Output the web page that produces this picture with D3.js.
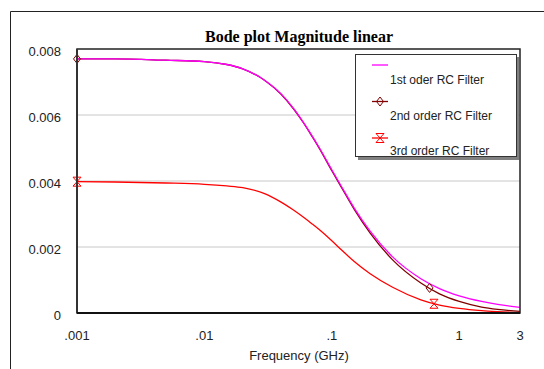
<!DOCTYPE html>
<html><head><meta charset="utf-8">
<script src="https://cdn.jsdelivr.net/npm/d3@7"></script>
<style>
html,body{margin:0;padding:0;background:#fff;}
svg{display:block;}
</style></head>
<body>
<svg id="chart" width="544" height="369"></svg>
<script>
// ---- data ----
const title = "Bode plot Magnitude linear";
const xAxisTitle = "Frequency (GHz)";
const freqs = [0.001, 0.002, 0.005, 0.01, 0.015, 0.02, 0.03, 0.04, 0.05, 0.06, 0.07, 0.08, 0.1, 0.12, 0.15, 0.2, 0.3, 0.5, 0.7, 1, 1.5, 2, 3];
const firstOrder  = [0.00770, 0.00770, 0.00766, 0.00762, 0.00753, 0.00740, 0.00704, 0.00664, 0.00620, 0.00577, 0.00537, 0.00500, 0.00434, 0.00381, 0.00318, 0.00248, 0.00170, 0.00104, 0.00074, 0.00052, 0.00035, 0.00026, 0.00017];
const secondOrder = [0.00770, 0.00770, 0.00766, 0.00762, 0.00753, 0.00740, 0.00704, 0.00663, 0.00619, 0.00576, 0.00535, 0.00498, 0.00431, 0.00378, 0.00314, 0.00242, 0.00161, 0.00091, 0.00058, 0.00035, 0.00018, 0.00011, 0.00005];
const thirdOrder  = [0.00398, 0.00397, 0.00394, 0.00390, 0.00385, 0.00380, 0.00361, 0.00336, 0.00312, 0.00290, 0.00270, 0.00252, 0.00219, 0.00190, 0.00156, 0.00119, 0.00078, 0.00040, 0.00024, 0.00014, 0.00007, 0.00004, 0.00001];
const marker2Freq = [0.001, 0.585];
const marker2Val  = [0.00770, 0.00076];
const marker3Freq = [0.001, 0.634];
const marker3Val  = [0.00398, 0.00028];
const seriesNames = ["1st oder RC Filter", "2nd order RC Filter", "3rd order RC Filter"];
const xTickValues = [0.001, 0.01, 0.1, 1, 3];
const xTickLabels = [".001", ".01", ".1", "1", "3"];
const yTickValues = [0, 0.002, 0.004, 0.006, 0.008];
const yTickLabels = ["0", "0.002", "0.004", "0.006", "0.008"];

// ---- layout ----
const colors = ["#ff00ff", "#800000", "#ff0000"];
const L = 77, R = 520, T = 49, B = 313;
const svg = d3.select("#chart");
const x = d3.scaleLog().domain([0.001, 3]).range([L, R]);
const y = d3.scaleLinear().domain([0, 0.008]).range([B, T]);

// outer frame
svg.append("path").attr("d", "M10.5,369 L10.5,11.5 L544,11.5")
  .attr("fill", "none").attr("stroke", "#222").attr("stroke-width", 1);

// title
svg.append("text").attr("x", 299).attr("y", 42).attr("text-anchor", "middle")
  .attr("font-family", "'Liberation Serif', 'Times New Roman', serif")
  .attr("font-weight", "bold").attr("font-size", 16).attr("fill", "#000").text(title);

// gridlines
svg.append("g").selectAll("line").data(yTickValues.filter(v => v > 0 && v < 0.008)).join("line")
  .attr("x1", L).attr("x2", R).attr("y1", d => y(d)).attr("y2", d => y(d))
  .attr("stroke", "#c8c8c8").attr("stroke-width", 1);

// lines
const line = d3.line().x(d => x(d[0])).y(d => y(d[1])).curve(d3.curveMonotoneX);
const allSeries = [firstOrder, secondOrder, thirdOrder];
[2, 1, 0].forEach(i => {
  svg.append("path").datum(freqs.map((f, k) => [f, allSeries[i][k]]))
    .attr("d", line).attr("fill", "none").attr("stroke", colors[i]).attr("stroke-width", 1.3);
});

// marker shapes
const diamond = "M0,-4.5 L3.5,0 L0,4.5 L-3.5,0 Z";
const hourglass = "M-4,-4.5 L4,-4.5 L-4,4.5 L4,4.5 Z";
svg.append("g").selectAll("path").data(marker2Freq.map((f, k) => [f, marker2Val[k]])).join("path")
  .attr("d", diamond).attr("transform", d => `translate(${x(d[0])},${y(d[1])})`)
  .attr("fill", "none").attr("stroke", colors[1]).attr("stroke-width", 1);
svg.append("g").selectAll("path").data(marker3Freq.map((f, k) => [f, marker3Val[k]])).join("path")
  .attr("d", hourglass).attr("transform", d => `translate(${x(d[0])},${y(d[1])})`)
  .attr("fill", "none").attr("stroke", colors[2]).attr("stroke-width", 1);

// plot frame
svg.append("rect").attr("x", L).attr("y", T).attr("width", R - L).attr("height", B - T)
  .attr("fill", "none").attr("stroke", "#222").attr("stroke-width", 1.5);
svg.append("line").attr("x1", L).attr("x2", L).attr("y1", T).attr("y2", B)
  .attr("stroke", "#333").attr("stroke-width", 2);
svg.append("line").attr("x1", L).attr("x2", R).attr("y1", B).attr("y2", B)
  .attr("stroke", "#111").attr("stroke-width", 2);

// axes labels
const font = "'Liberation Sans', Arial, sans-serif";
svg.append("g").selectAll("text").data(xTickValues).join("text")
  .attr("x", d => x(d)).attr("y", 340).attr("text-anchor", "middle")
  .attr("font-family", font).attr("font-size", 13).attr("fill", "#222")
  .text((d, i) => xTickLabels[i]);
svg.append("g").selectAll("text").data(yTickValues).join("text")
  .attr("x", 61).attr("y", d => y(d) + 6.5).attr("text-anchor", "end")
  .attr("font-family", font).attr("font-size", 13).attr("fill", "#222")
  .text((d, i) => yTickLabels[i]);
svg.append("text").attr("x", 299).attr("y", 360).attr("text-anchor", "middle")
  .attr("font-family", font).attr("font-size", 13).attr("fill", "#222").text(xAxisTitle);

// legend
const lg = svg.append("g");
lg.append("rect").attr("x", 358).attr("y", 57).attr("width", 161).attr("height", 103).attr("fill", "#808080");
lg.append("rect").attr("x", 355.5).attr("y", 54.5).attr("width", 161).attr("height", 102)
  .attr("fill", "#fff").attr("stroke", "#333").attr("stroke-width", 1);
const lineY = [65, 101.5, 138];
const textY = [84, 119.7, 154.7];
seriesNames.forEach((name, i) => {
  lg.append("line").attr("x1", 372).attr("x2", 388).attr("y1", lineY[i]).attr("y2", lineY[i])
    .attr("stroke", colors[i]).attr("stroke-width", 1.3);
  if (i === 1) lg.append("path").attr("d", diamond).attr("transform", `translate(380,${lineY[i]})`)
    .attr("fill", "none").attr("stroke", colors[1]);
  if (i === 2) lg.append("path").attr("d", hourglass).attr("transform", `translate(380,${lineY[i]})`)
    .attr("fill", "none").attr("stroke", colors[2]);
  lg.append("text").attr("x", 390).attr("y", textY[i]).attr("font-family", font)
    .attr("font-size", 12).attr("fill", "#222").text(name);
});
</script>
</body></html>
